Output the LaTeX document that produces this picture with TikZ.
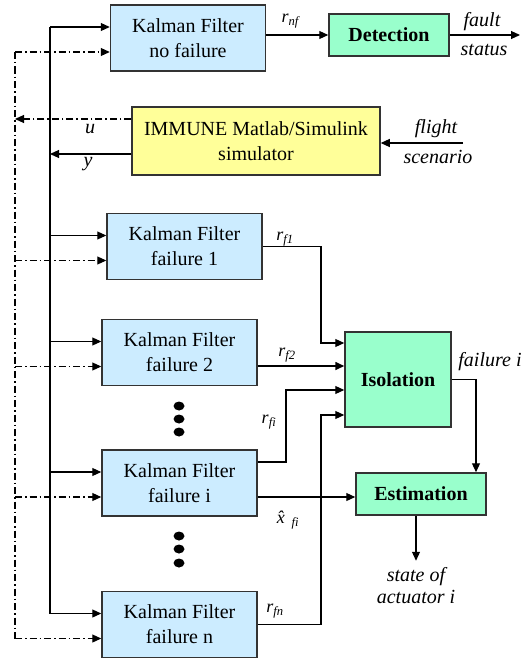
\documentclass[tikz,border=0pt]{standalone}
\usepackage{fontspec}
\setmainfont{Liberation Serif}
\usepackage{xcolor}
\usetikzlibrary{arrows.meta, positioning, calc}
\definecolor{kfblue}{RGB}{204,236,255}
\definecolor{boxgreen}{RGB}{153,255,204}
\definecolor{simyellow}{RGB}{255,255,153}
\newcommand{\res}[1]{{\fontsize{18}{20}\selectfont\textit{r}\textsubscript{\textit{#1}}}}

\begin{document}
\begin{tikzpicture}[x=1pt, y=-1pt, >={Triangle[length=9pt, width=8pt]}, line width=1.1pt,
    every node/.style={font=\fontsize{20}{25}\selectfont},
    kfbox/.style={draw=black!80, fill=kfblue, line width=1.5pt, minimum width=155pt,
        minimum height=66pt, inner sep=0pt, align=center},
    greenbox/.style={draw=black!80, fill=boxgreen, line width=1.5pt, inner sep=0pt,
        font=\fontsize{20}{25}\selectfont\bfseries},
    simbox/.style={draw=black!80, fill=simyellow, line width=1.5pt, minimum width=248pt,
        minimum height=68pt, inner sep=0pt, align=center},
    ctl/.style={dash pattern=on 7pt off 3pt on 1.5pt off 3pt},
    lbl/.style={font=\fontsize{20}{22}\selectfont\itshape, inner sep=0pt, align=center}]

\useasboundingbox (0,0) rectangle (531,661);
\coordinate (bus) at (50,0);
\coordinate (cbus) at (15,0);

% ── Top: no-failure filter, detection, simulator ─────────────────
\node[kfbox] (kf0) at (188,38) {Kalman Filter\\no failure};
\node[greenbox, minimum width=120pt, minimum height=42pt] (det) at (389,35) {Detection};
\node[simbox] (sim) at (256,141) {IMMUNE Matlab/Simulink\\simulator};

\coordinate (fs) at (520,35);
\draw[->] (kf0.east |- det.west) -- (det.west);
\draw[->] (det.east) -- (fs);
\node at (291,21) {\res{nf}};
\node[lbl] at (482,22) {fault};
\node[lbl] at (484,50) {status};

\coordinate (fl) at (463,143);
\draw[->] (fl) -- (sim.east |- fl);
\node[lbl] at (436,129) {flight};
\node[lbl] at (438,157) {scenario};

\coordinate (ytap) at (50,154);
\coordinate (utap) at (15,119);
\draw[->] (sim.west |- ytap) -- (ytap);
\draw[->, ctl] (sim.west |- utap) -- (utap);
\node[lbl] at (90,129) {u};
\node[lbl] at (88,164) {y};

% ── Failure filters ──────────────────────────────────────────────
\foreach \n/\cx/\cy/\txt in {kf1/184.5/246.5/failure 1, kf2/179.5/352.5/failure 2,
    kfi/179.5/483/failure i, kfn/179.5/624.5/failure n} {
    \node[kfbox] (\n) at (\cx,\cy) {Kalman Filter\\\txt};
}
\foreach \y in {406, 419, 432, 536, 549, 563} {
    \fill (179,\y) ellipse (5.5 and 4.5);
}

% inputs y (solid) and u (dash-dot) of every filter
\foreach \n in {kf0, kf1, kf2, kfi, kfn} {
    \coordinate (\n-in) at ($(\n.west)+(0,-11)$);
    \coordinate (\n-cin) at ($(\n.west)+(0,14)$);
    \draw[->] (\n-in -| bus) -- (\n-in);
    \draw[->, ctl] (\n-cin -| cbus) -- (\n-cin);
}
\draw[line width=2pt] (kf0-in -| bus) -- (ytap);
\draw (ytap) -- (kfn-in -| bus);
\draw[ctl] (kf0-cin -| cbus) -- (kfn-cin -| cbus);

% ── Isolation and estimation ─────────────────────────────────────
\node[greenbox, minimum width=106pt, minimum height=95pt] (iso) at (398,379.5) {Isolation};
\node[greenbox, minimum width=130pt, minimum height=42pt] (est) at (421,494) {Estimation};

\coordinate (jn) at (321,0);
\coordinate (ji) at (286,0);
\coordinate (iso1) at ($(iso.west)+(0,-36.5)$);
\coordinate (iso2) at ($(iso.west)+(0,-13.5)$);
\coordinate (iso3) at ($(iso.west)+(0,10.5)$);
\coordinate (iso4) at ($(iso.west)+(0,35.5)$);
\coordinate (kfi-r) at ($(kfi.east)+(0,-21)$);
\coordinate (kfi-x) at ($(kfi.east)+(0,14)$);

\draw[->] (kf1.east) -| (jn |- iso1) -- (iso1);
\draw[->, line width=1.6pt] (kf2.east |- iso2) -- (iso2);
\draw[->] (kfi-r) -| (ji |- iso3) -- (iso3);
\draw[->] (kfn.east) -| (jn |- iso4) -- (iso4);
\draw[->] (kfi-x) -- (est.west |- kfi-x);
\node at (285,239) {\res{f1}};
\node at (287,355) {\res{f2}};
\node at (269,422) {\res{fi}};
\node at (275,611) {\res{fn}};
\node at (288,520) {{\fontsize{18}{20}\selectfont\textit{x̂}\textsubscript{\textit{fi}}}};

\draw[->] (iso.east) -| ([xshift=55pt]est.north);
\node[lbl] at (490,362) {failure i};
\draw[->] ([xshift=-5pt]est.south) -- ++(0,45) coordinate (st);
\node[lbl, below=6pt of st] {state of\\actuator i};

\end{tikzpicture}
\end{document}
